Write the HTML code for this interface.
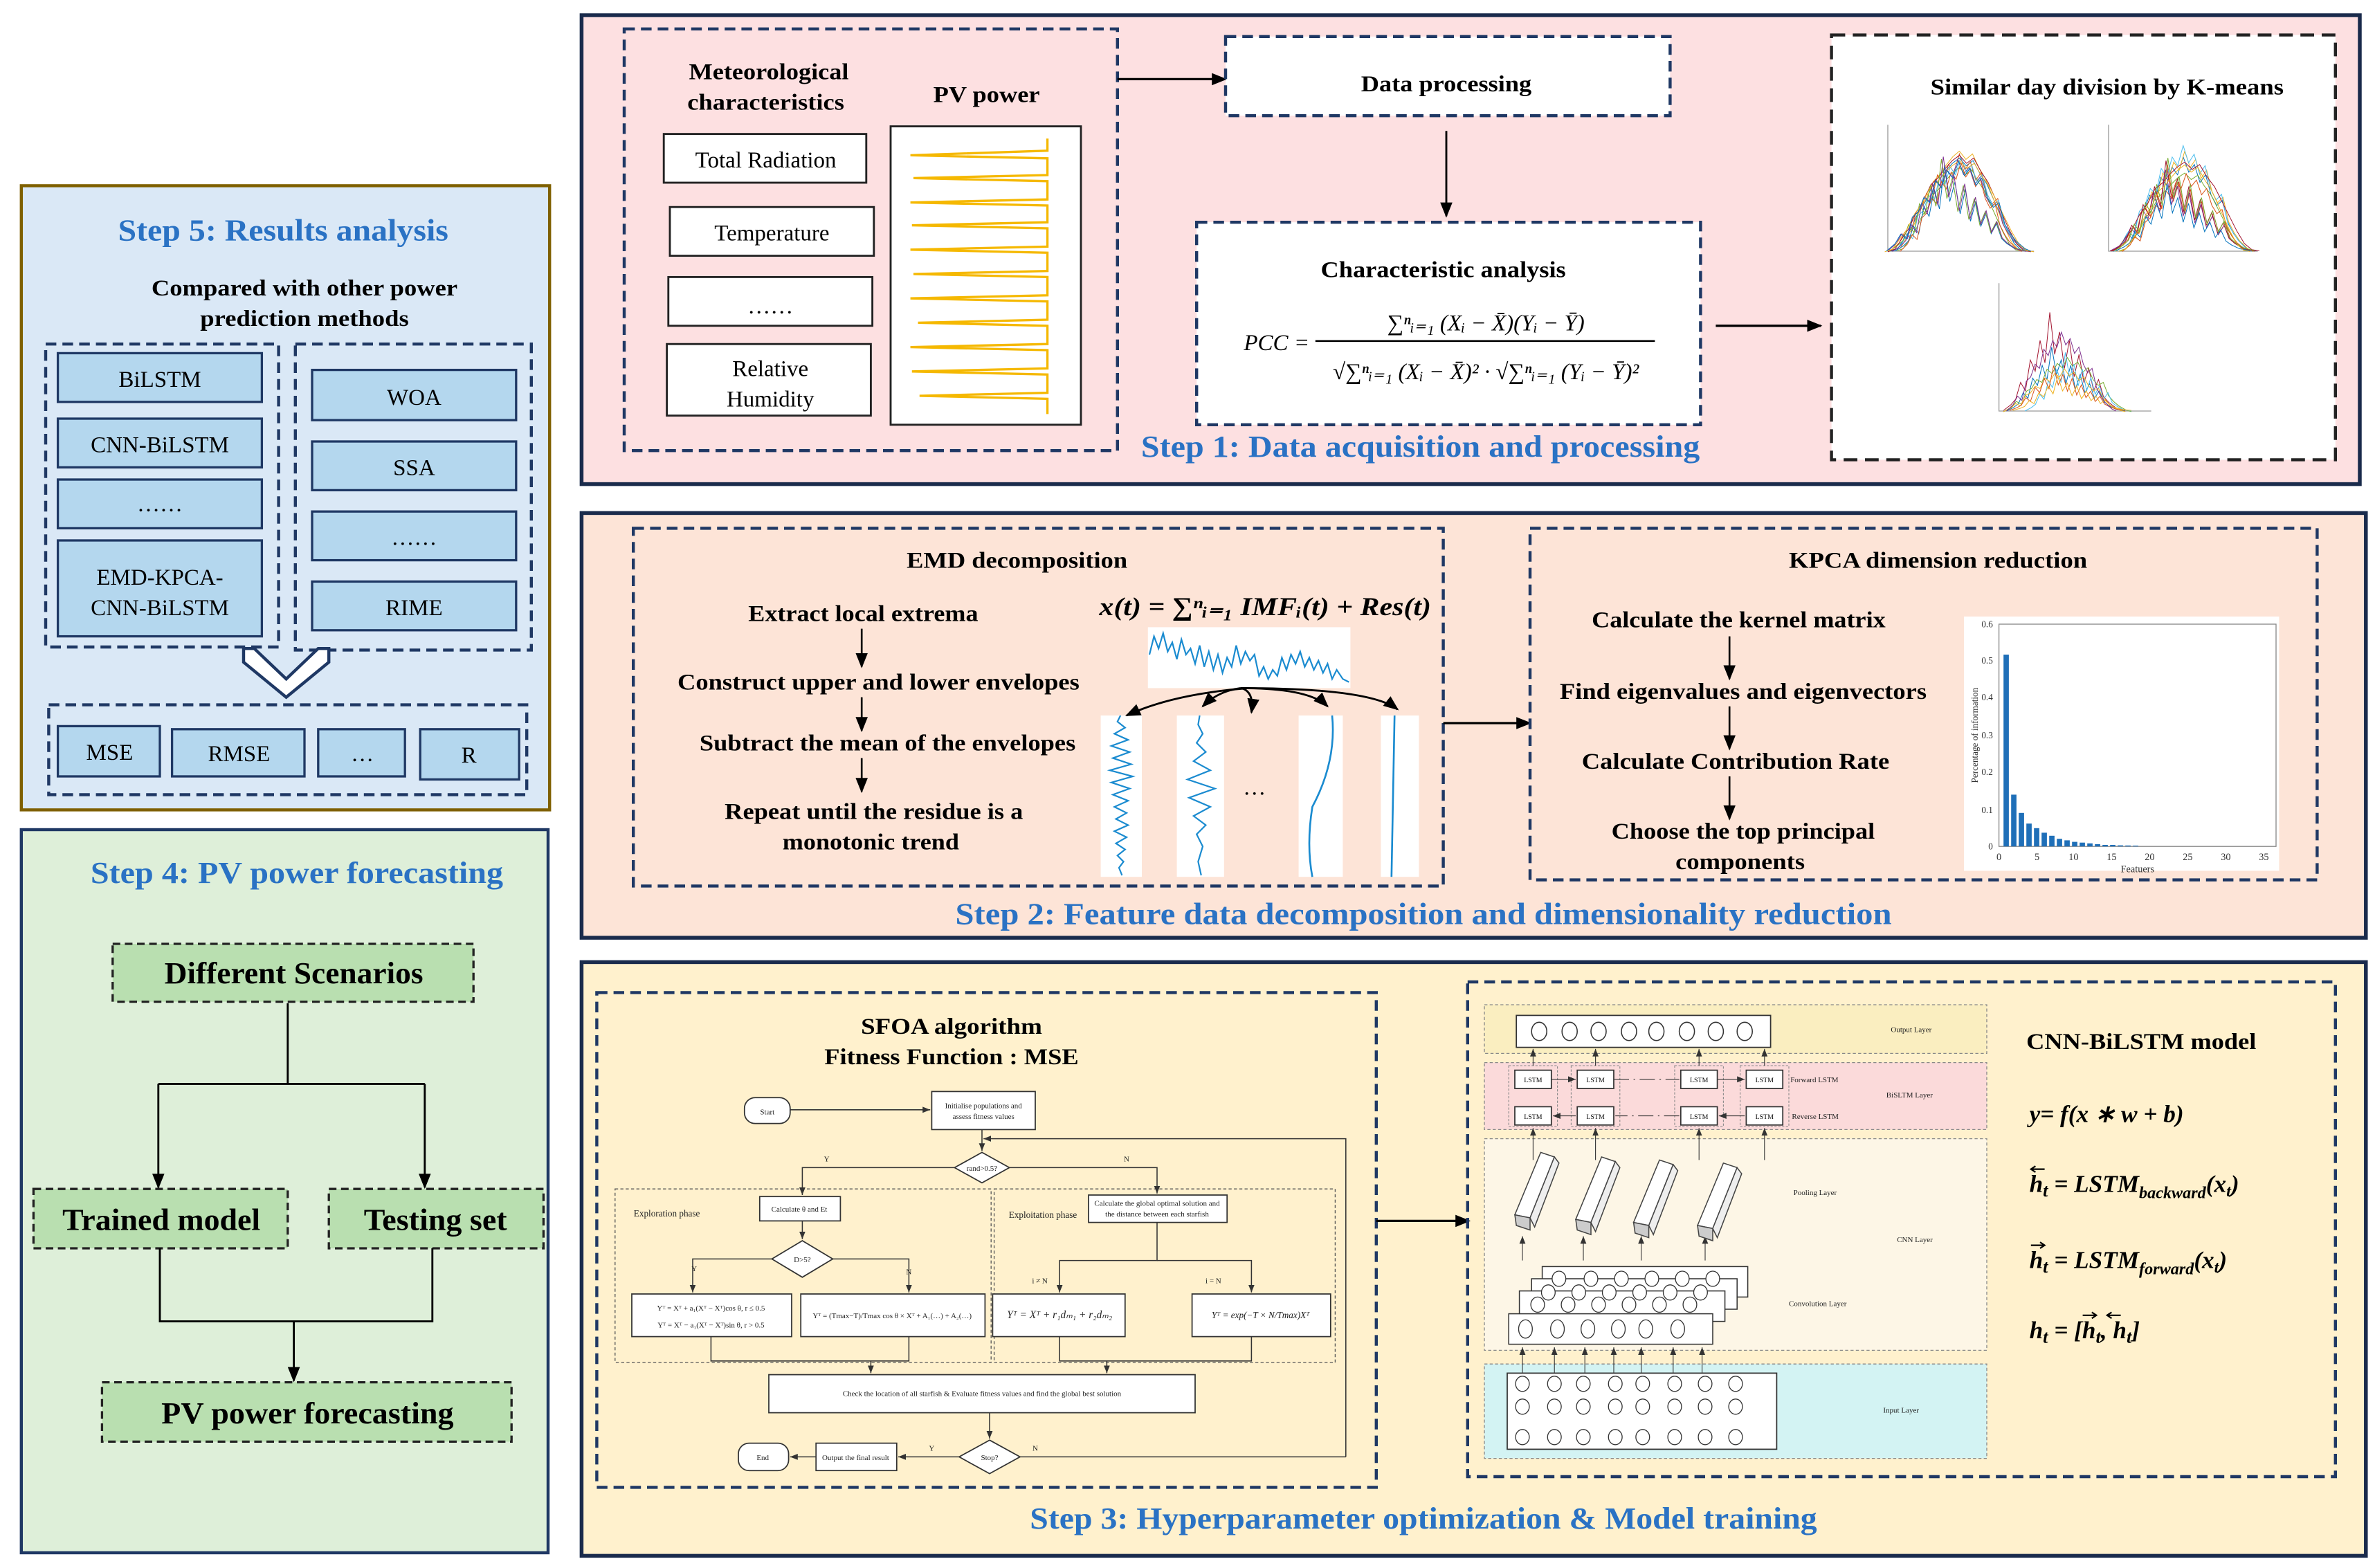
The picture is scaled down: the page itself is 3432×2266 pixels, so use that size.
<!DOCTYPE html>
<html><head><meta charset="utf-8"><style>
html,body{margin:0;padding:0;background:#fff;}
svg{display:block;}
text{font-family:"Liberation Serif",serif;}
.b{font-weight:bold;}
.blue{fill:#2a72c4;font-weight:bold;}
</style></head><body>
<svg width="3432" height="2266" viewBox="0 0 1560 1030" xmlns="http://www.w3.org/2000/svg">
<defs>
<marker id="ar" markerWidth="10" markerHeight="10" refX="9" refY="5" orient="auto" markerUnits="userSpaceOnUse"><path d="M0,1 L10,5 L0,9 Z" fill="#000"/></marker>
<marker id="as" markerWidth="5" markerHeight="5" refX="5" refY="2.5" orient="auto" markerUnits="userSpaceOnUse"><path d="M0,0.5 L5,2.5 L0,4.5 Z" fill="#333"/></marker>
<path id="c1" d="M0,80 L5,78 L10,70 L15,62 L20,50 L25,42 L30,30 L35,25 L40,18 L45,12 L50,8 L55,14 L60,10 L65,20 L70,28 L75,40 L80,52 L85,64 L90,74 L95,79 L100,80" fill="none" vector-effect="non-scaling-stroke"/>
<path id="c2" d="M0,80 L6,74 L10,66 L14,70 L18,52 L22,48 L26,36 L30,40 L34,22 L38,28 L42,14 L46,20 L50,6 L54,18 L58,12 L62,26 L66,20 L70,36 L74,44 L78,40 L82,58 L86,66 L90,72 L96,78 L100,80" fill="none" vector-effect="non-scaling-stroke"/>
<path id="c3" d="M0,80 L6,76 L10,72 L14,60 L18,66 L22,44 L26,52 L30,30 L34,46 L38,10 L42,40 L46,24 L50,50 L54,30 L58,56 L62,40 L66,60 L70,50 L74,66 L78,58 L82,70 L86,74 L92,78 L100,80" fill="none" vector-effect="non-scaling-stroke"/>
</defs>

<!-- STEP 5 -->
<rect x="14" y="122" width="347" height="410" fill="#dae8f6" stroke="#7f6000" stroke-width="2"/>
<text x="186" y="158" class="blue" font-size="20" text-anchor="middle" textLength="217" lengthAdjust="spacingAndGlyphs">Step 5: Results analysis</text>
<text x="200" y="194" class="b" font-size="15" text-anchor="middle" textLength="201" lengthAdjust="spacingAndGlyphs">Compared with other power</text>
<text x="200" y="214" class="b" font-size="15" text-anchor="middle" textLength="137" lengthAdjust="spacingAndGlyphs">prediction methods</text>
<g fill="none" stroke="#1f3864" stroke-width="2" stroke-dasharray="7,4">
<rect x="30" y="226" width="153" height="199"/><rect x="194" y="226" width="155" height="201"/><rect x="32" y="463" width="314" height="59"/>
</g>
<g fill="#b4d7ee" stroke="#1f3864" stroke-width="1.5">
<rect x="38" y="232" width="134" height="32"/><rect x="38" y="275" width="134" height="32"/><rect x="38" y="315" width="134" height="32"/><rect x="38" y="355" width="134" height="63"/>
<rect x="205" y="243" width="134" height="33"/><rect x="205" y="290" width="134" height="32"/><rect x="205" y="336" width="134" height="32"/><rect x="205" y="382" width="134" height="32"/>
<rect x="38" y="477" width="67" height="33"/><rect x="113" y="479" width="87" height="31"/><rect x="209" y="479" width="57" height="31"/><rect x="276" y="479" width="65" height="33"/>
</g>
<g font-size="15" text-anchor="middle">
<text x="105" y="254">BiLSTM</text><text x="105" y="297">CNN-BiLSTM</text><text x="105" y="336">……</text>
<text x="105" y="384">EMD-KPCA-</text><text x="105" y="404">CNN-BiLSTM</text>
<text x="272" y="266">WOA</text><text x="272" y="312">SSA</text><text x="272" y="358">……</text><text x="272" y="404">RIME</text>
<text x="72" y="499">MSE</text><text x="157" y="500">RMSE</text><text x="238" y="500">…</text><text x="308" y="501">R</text>
</g>
<polygon points="160,426 167,426 188,446 209,426 216,426 216,435 188,458 160,435" fill="#fff" stroke="#1f3864" stroke-width="2"/>

<!-- STEP 4 -->
<rect x="14" y="545" width="346" height="475" fill="#deefd9" stroke="#1f3864" stroke-width="2"/>
<text x="195" y="580" class="blue" font-size="20" text-anchor="middle" textLength="271" lengthAdjust="spacingAndGlyphs">Step 4: PV power forecasting</text>
<g fill="#b9dfb0" stroke="#222" stroke-width="1.5" stroke-dasharray="5,3">
<rect x="74" y="620" width="237" height="38"/><rect x="22" y="781" width="167" height="39"/><rect x="216" y="781" width="141" height="39"/><rect x="67" y="908" width="269" height="39"/>
</g>
<g class="b" font-size="20" text-anchor="middle">
<text x="193" y="646" textLength="170" lengthAdjust="spacingAndGlyphs">Different Scenarios</text>
<text x="106" y="808" textLength="130" lengthAdjust="spacingAndGlyphs">Trained model</text>
<text x="286" y="808" textLength="94" lengthAdjust="spacingAndGlyphs">Testing set</text>
<text x="202" y="935" textLength="192" lengthAdjust="spacingAndGlyphs">PV power forecasting</text>
</g>
<g fill="none" stroke="#000" stroke-width="1.3">
<path d="M189,659 V712 M104,712 H279"/>
<path d="M104,712 V780" marker-end="url(#ar)"/><path d="M279,712 V780" marker-end="url(#ar)"/>
<path d="M105,820 V868 H284 V820"/><path d="M193,868 V907" marker-end="url(#ar)"/>
</g>

<!-- STEP 1 -->
<rect x="382" y="10" width="1168" height="308" fill="#fde0e1" stroke="#1a2b4c" stroke-width="2.5"/>
<rect x="410" y="19" width="324" height="277" fill="none" stroke="#1f3864" stroke-width="2" stroke-dasharray="7,4"/>
<text x="505" y="52" class="b" font-size="15" text-anchor="middle" textLength="105" lengthAdjust="spacingAndGlyphs">Meteorological</text>
<text x="503" y="72" class="b" font-size="15" text-anchor="middle" textLength="103" lengthAdjust="spacingAndGlyphs">characteristics</text>
<text x="648" y="67" class="b" font-size="15" text-anchor="middle" textLength="70" lengthAdjust="spacingAndGlyphs">PV power</text>
<g fill="#fff" stroke="#222" stroke-width="1.3">
<rect x="436" y="88" width="133" height="32"/><rect x="440" y="136" width="134" height="32"/><rect x="439" y="182" width="134" height="32"/><rect x="438" y="226" width="134" height="47"/>
<rect x="585" y="83" width="125" height="196"/>
</g>
<g font-size="15" text-anchor="middle">
<text x="503" y="110">Total Radiation</text><text x="507" y="158">Temperature</text><text x="506" y="206">……</text>
<text x="506" y="247">Relative</text><text x="506" y="267">Humidity</text>
</g>
<path d="M688,91 V99 L598,102 L688,104 V115 L600,117 L688,119 V131 L598,133 L688,135 V146 L599,148 L688,150 V162 L598,164 L688,166 V178 L600,180 L688,182 V194 L598,196 L688,198 V210 L603,212 L688,214 V226 L598,228 L688,230 V242 L599,244 L688,246 V258 L604,260 L688,262 V272" fill="none" stroke="#f5b800" stroke-width="1.5"/>
<path d="M734,52 H805" stroke="#000" stroke-width="1.5" marker-end="url(#ar)"/>
<rect x="805" y="24" width="292" height="52" fill="#fff" stroke="#1f3864" stroke-width="2" stroke-dasharray="7,4"/>
<text x="950" y="60" class="b" font-size="15" text-anchor="middle" textLength="112" lengthAdjust="spacingAndGlyphs">Data processing</text>
<path d="M950,86 V142" stroke="#000" stroke-width="1.3" marker-end="url(#ar)"/>
<rect x="786" y="146" width="331" height="133" fill="#fff" stroke="#1f3864" stroke-width="2" stroke-dasharray="7,4"/>
<text x="948" y="182" class="b" font-size="15" text-anchor="middle" textLength="161" lengthAdjust="spacingAndGlyphs">Characteristic analysis</text>
<g font-size="15" font-style="italic">
<text x="817" y="230">PCC =</text>
<text x="976" y="217" text-anchor="middle">∑ⁿᵢ₌₁ (Xᵢ − X̄)(Yᵢ − Ȳ)</text>
<text x="976" y="249" text-anchor="middle">√∑ⁿᵢ₌₁ (Xᵢ − X̄)² · √∑ⁿᵢ₌₁ (Yᵢ − Ȳ)²</text>
</g>
<path d="M864,224 H1087" stroke="#000" stroke-width="1.2"/>
<path d="M1127,214 H1196" stroke="#000" stroke-width="1.5" marker-end="url(#ar)"/>
<text x="933" y="300" class="blue" font-size="20" text-anchor="middle" textLength="367" lengthAdjust="spacingAndGlyphs">Step 1: Data acquisition and processing</text>
<rect x="1203" y="23" width="331" height="279" fill="#fff" stroke="#222" stroke-width="2" stroke-dasharray="9,5"/>
<text x="1384" y="62" class="b" font-size="15" text-anchor="middle" textLength="232" lengthAdjust="spacingAndGlyphs">Similar day division by K-means</text>
<g stroke="#999" stroke-width="0.6" fill="none"><path d="M1240,82 V165 H1336"/><path d="M1385,82 V165 H1483"/><path d="M1313,186 V270 H1413"/></g>
<g stroke-width="1">
<use href="#c1" stroke="#0072bd" transform="translate(1242,97) scale(0.9,0.85)"/>
<use href="#c2" stroke="#d95319" transform="translate(1242,96) scale(0.9,0.86)"/>
<use href="#c1" stroke="#edb120" transform="translate(1244,92) scale(0.86,0.91)"/>
<use href="#c2" stroke="#7e2f8e" transform="translate(1240,100) scale(0.92,0.81)"/>
<use href="#c1" stroke="#77ac30" transform="translate(1246,104) scale(0.82,0.76)"/>
<use href="#c2" stroke="#4dbeee" transform="translate(1244,98) scale(0.88,0.84)"/>
<use href="#c1" stroke="#a2142f" transform="translate(1240,95) scale(0.94,0.88)"/>
<use href="#c3" stroke="#0072bd" transform="translate(1245,100) scale(0.85,0.81)"/>
<use href="#c2" stroke="#d95319" transform="translate(1248,102) scale(0.8,0.79)"/>
<use href="#c3" stroke="#77ac30" transform="translate(1241,96) scale(0.9,0.86)"/>
<use href="#c1" stroke="#edb120" transform="translate(1238,99) scale(0.98,0.83)"/>
<use href="#c3" stroke="#7e2f8e" transform="translate(1243,94) scale(0.88,0.89)"/>
<use href="#c2" stroke="#0072bd" transform="translate(1239,101) scale(0.95,0.8)"/>
<use href="#c2" stroke="#0072bd" transform="translate(1388,98) scale(0.92,0.84)"/>
<use href="#c3" stroke="#d95319" transform="translate(1388,100) scale(0.94,0.81)"/>
<use href="#c2" stroke="#edb120" transform="translate(1390,94) scale(0.9,0.89)"/>
<use href="#c3" stroke="#7e2f8e" transform="translate(1386,104) scale(0.96,0.76)"/>
<use href="#c1" stroke="#77ac30" transform="translate(1392,108) scale(0.86,0.71)"/>
<use href="#c2" stroke="#4dbeee" transform="translate(1389,90) scale(0.9,0.94)"/>
<use href="#c3" stroke="#a2142f" transform="translate(1387,97) scale(0.94,0.85)"/>
<use href="#c2" stroke="#d95319" transform="translate(1394,110) scale(0.84,0.69)"/>
<use href="#c3" stroke="#0072bd" transform="translate(1390,115) scale(0.88,0.62)"/>
<use href="#c1" stroke="#edb120" transform="translate(1392,102) scale(0.86,0.79)"/>
<use href="#c1" stroke="#a2142f" transform="translate(1386,100) scale(0.98,0.81)"/>
<use href="#c3" stroke="#77ac30" transform="translate(1389,95) scale(0.92,0.87)"/>
<use href="#c3" stroke="#a2142f" transform="translate(1316,196) scale(0.8,0.92)"/>
<use href="#c3" stroke="#0072bd" transform="translate(1318,222) scale(0.78,0.6)"/>
<use href="#c2" stroke="#77ac30" transform="translate(1316,232) scale(0.84,0.48)"/>
<use href="#c3" stroke="#4dbeee" transform="translate(1330,226) scale(0.7,0.55)"/>
<use href="#c2" stroke="#edb120" transform="translate(1316,240) scale(0.8,0.38)"/>
<use href="#c3" stroke="#d95319" transform="translate(1320,236) scale(0.76,0.42)"/>
<use href="#c2" stroke="#7e2f8e" transform="translate(1318,214) scale(0.72,0.7)"/>
<use href="#c3" stroke="#edb120" transform="translate(1322,244) scale(0.78,0.32)"/>
</g>

<!-- STEP 2 -->
<rect x="382" y="337" width="1172" height="279" fill="#fde4d7" stroke="#1a2b4c" stroke-width="2.5"/>
<rect x="416" y="347" width="532" height="235" fill="none" stroke="#1f3864" stroke-width="2" stroke-dasharray="7,4"/>
<text x="668" y="373" class="b" font-size="15" text-anchor="middle" textLength="145" lengthAdjust="spacingAndGlyphs">EMD decomposition</text>
<g class="b" font-size="15" text-anchor="middle">
<text x="567" y="408" textLength="151" lengthAdjust="spacingAndGlyphs">Extract local extrema</text>
<text x="577" y="453" textLength="264" lengthAdjust="spacingAndGlyphs">Construct upper and lower envelopes</text>
<text x="583" y="493" textLength="247" lengthAdjust="spacingAndGlyphs">Subtract the mean of the envelopes</text>
<text x="574" y="538" textLength="196" lengthAdjust="spacingAndGlyphs">Repeat until the residue is a</text>
<text x="572" y="558" textLength="116" lengthAdjust="spacingAndGlyphs">monotonic trend</text>
</g>
<g stroke="#000" stroke-width="1.2"><path d="M566,413 V438" marker-end="url(#ar)"/><path d="M566,458 V480" marker-end="url(#ar)"/><path d="M566,498 V520" marker-end="url(#ar)"/></g>
<text x="722" y="404" font-size="17" font-weight="bold" font-style="italic" textLength="218" lengthAdjust="spacingAndGlyphs">x(t) = ∑ⁿᵢ₌₁ IMFᵢ(t) + Res(t)</text>
<rect x="754" y="412" width="133" height="40" fill="#fff"/>
<path d="M755,430 L758,418 L761,426 L764,416 L767,428 L770,422 L773,433 L776,420 L779,430 L782,426 L785,436 L788,424 L791,438 L794,428 L797,440 L800,430 L803,442 L806,432 L809,438 L812,424 L815,436 L818,428 L821,434 L824,430 L827,444 L830,438 L833,446 L836,440 L839,444 L842,432 L845,440 L848,430 L851,436 L854,428 L857,438 L860,432 L863,440 L866,434 L869,442 L872,436 L875,446 L878,440 L882,446 L886,448" fill="none" stroke="#1a8bd0" stroke-width="1"/>
<g fill="#fff"><rect x="723" y="470" width="27" height="106"/><rect x="773" y="470" width="31" height="106"/><rect x="853" y="470" width="29" height="106"/><rect x="907" y="470" width="25" height="106"/></g>
<path d="M736,470 L734,474 L739,478 L732,482 L741,486 L730,490 L742,494 L731,498 L743,502 L729,506 L744,510 L730,514 L742,518 L731,522 L741,526 L732,530 L740,534 L733,538 L741,542 L732,546 L740,550 L733,554 L739,558 L734,562 L738,566 L735,570 L737,575" fill="none" stroke="#1a8bd0" stroke-width="1"/>
<path d="M788,470 L787,476 L790,482 L786,488 L792,494 L784,500 L795,506 L780,512 L798,518 L781,524 L795,530 L784,536 L792,542 L786,548 L790,556 L787,566 L789,575" fill="none" stroke="#1a8bd0" stroke-width="1"/>
<path d="M875,470 Q878,500 862,530 Q858,555 862,576" fill="none" stroke="#1a8bd0" stroke-width="1.2"/>
<path d="M916,470 L914,576" fill="none" stroke="#1a8bd0" stroke-width="1.2"/>
<text x="824" y="522" font-size="15" text-anchor="middle">…</text>
<g fill="none" stroke="#000" stroke-width="1.3">
<path d="M820,452 Q770,456 740,470" marker-end="url(#ar)"/>
<path d="M815,452 Q800,454 790,464" marker-end="url(#ar)"/>
<path d="M815,452 Q824,454 822,468" marker-end="url(#ar)"/>
<path d="M815,452 Q860,452 872,464" marker-end="url(#ar)"/>
<path d="M815,452 Q900,452 918,466" marker-end="url(#ar)"/>
</g>
<path d="M948,475 H1005" stroke="#000" stroke-width="1.5" marker-end="url(#ar)"/>
<rect x="1005" y="347" width="517" height="231" fill="none" stroke="#1f3864" stroke-width="2" stroke-dasharray="7,4"/>
<text x="1273" y="373" class="b" font-size="15" text-anchor="middle" textLength="196" lengthAdjust="spacingAndGlyphs">KPCA dimension reduction</text>
<g class="b" font-size="15" text-anchor="middle">
<text x="1142" y="412" textLength="193" lengthAdjust="spacingAndGlyphs">Calculate the kernel matrix</text>
<text x="1145" y="459" textLength="241" lengthAdjust="spacingAndGlyphs">Find eigenvalues and eigenvectors</text>
<text x="1140" y="505" textLength="202" lengthAdjust="spacingAndGlyphs">Calculate Contribution Rate</text>
<text x="1145" y="551" textLength="173" lengthAdjust="spacingAndGlyphs">Choose the top principal</text>
<text x="1143" y="571" textLength="85" lengthAdjust="spacingAndGlyphs">components</text>
</g>
<g stroke="#000" stroke-width="1.2"><path d="M1136,418 V446" marker-end="url(#ar)"/><path d="M1136,464 V492" marker-end="url(#ar)"/><path d="M1136,510 V538" marker-end="url(#ar)"/></g>
<rect x="1290" y="405" width="207" height="167" fill="#fff"/>
<rect x="1313" y="410" width="182" height="146" fill="none" stroke="#888" stroke-width="0.6"/>
<g fill="#1f6fb8">
<rect x="1316" y="430" width="3.5" height="126"/><rect x="1321" y="522" width="3.5" height="34"/><rect x="1326" y="534" width="3.5" height="22"/><rect x="1331" y="541" width="3.5" height="15"/><rect x="1336" y="544" width="3.5" height="12"/><rect x="1341" y="547" width="3.5" height="9"/><rect x="1346" y="549" width="3.5" height="7"/><rect x="1351" y="551" width="3.5" height="5"/><rect x="1356" y="552" width="3.5" height="4"/><rect x="1361" y="553" width="3.5" height="3"/><rect x="1366" y="553.5" width="3.5" height="2.5"/><rect x="1371" y="554" width="3.5" height="2"/><rect x="1376" y="554.5" width="3.5" height="1.5"/><rect x="1381" y="555" width="3.5" height="1"/><rect x="1386" y="555" width="3.5" height="1"/><rect x="1391" y="555.3" width="3.5" height="0.7"/><rect x="1396" y="555.4" width="3.5" height="0.6"/><rect x="1401" y="555.5" width="3.5" height="0.5"/>
</g>
<g font-family="Liberation Sans" font-size="6" fill="#333" text-anchor="end">
<text x="1309" y="412">0.6</text><text x="1309" y="436">0.5</text><text x="1309" y="460">0.4</text><text x="1309" y="485">0.3</text><text x="1309" y="509">0.2</text><text x="1309" y="534">0.1</text><text x="1309" y="558">0</text>
</g>
<g font-family="Liberation Sans" font-size="6.5" fill="#333" text-anchor="middle">
<text x="1313" y="565">0</text><text x="1338" y="565">5</text><text x="1362" y="565">10</text><text x="1387" y="565">15</text><text x="1412" y="565">20</text><text x="1437" y="565">25</text><text x="1462" y="565">30</text><text x="1487" y="565">35</text>
<text x="1404" y="573">Featuers</text>
<text x="0" y="0" transform="translate(1299,483) rotate(-90)" font-size="6">Percentage of information</text>
</g>
<text x="935" y="607" class="blue" font-size="20" text-anchor="middle" textLength="615" lengthAdjust="spacingAndGlyphs">Step 2:  Feature data decomposition and dimensionality reduction</text>

<!-- STEP 3 -->
<rect x="382" y="632" width="1172" height="390" fill="#fff1cd" stroke="#1a2b4c" stroke-width="2.5"/>
<rect x="392" y="652" width="512" height="325" fill="none" stroke="#1f3864" stroke-width="2" stroke-dasharray="7,4"/>
<text x="625" y="679" class="b" font-size="15" text-anchor="middle" textLength="119" lengthAdjust="spacingAndGlyphs">SFOA algorithm</text>
<text x="625" y="699" class="b" font-size="15" text-anchor="middle" textLength="167" lengthAdjust="spacingAndGlyphs">Fitness Function : MSE</text>
<g fill="none" stroke="#555" stroke-width="0.6" stroke-dasharray="2,1.5">
<rect x="404" y="781" width="247" height="114"/><rect x="653" y="781" width="224" height="114"/>
</g>
<g fill="#fff" stroke="#333" stroke-width="0.8">
<rect x="489" y="721" width="30" height="17" rx="7"/>
<rect x="612" y="717" width="68" height="25"/>
<polygon points="645,757 663,767 645,777 627,767"/>
<rect x="499" y="786" width="53" height="16"/>
<rect x="715" y="785" width="91" height="18"/>
<polygon points="527,815 547,827 527,839 507,827"/>
<rect x="415" y="850" width="105" height="28"/><rect x="526" y="850" width="121" height="28"/>
<rect x="652" y="850" width="87" height="28"/><rect x="783" y="850" width="91" height="28"/>
<rect x="505" y="903" width="280" height="25"/>
<polygon points="650,946 670,957 650,968 630,957"/>
<rect x="536" y="948" width="53" height="18"/>
<rect x="485" y="948" width="33" height="18" rx="7"/>
</g>
<g fill="none" stroke="#333" stroke-width="0.7">
<path d="M519,729 H611" marker-end="url(#as)"/>
<path d="M645,742 V756" marker-end="url(#as)"/>
<path d="M884,957 V748 H646" marker-end="url(#as)"/>
<path d="M670,957 H884"/>
<path d="M627,767 H527 V785" marker-end="url(#as)"/>
<path d="M663,767 H760 V784" marker-end="url(#as)"/>
<path d="M527,802 V814" marker-end="url(#as)"/>
<path d="M507,827 H455 V849" marker-end="url(#as)"/>
<path d="M547,827 H597 V849" marker-end="url(#as)"/>
<path d="M760,803 V828 H696 V849" marker-end="url(#as)"/>
<path d="M760,828 H822 V849" marker-end="url(#as)"/>
<path d="M467,878 V894 H597 V878"/>
<path d="M572,894 V902" marker-end="url(#as)"/>
<path d="M696,878 V894 H822 V878"/>
<path d="M727,894 V902" marker-end="url(#as)"/>
<path d="M650,928 V945" marker-end="url(#as)"/>
<path d="M630,957 H590" marker-end="url(#as)"/>
<path d="M536,957 H519" marker-end="url(#as)"/>
</g>
<g font-size="5" text-anchor="middle" fill="#222">
<text x="504" y="732">Start</text>
<text x="646" y="728">Initialise populations and</text><text x="646" y="735">assess fitness values</text>
<text x="645" y="769">rand&gt;0.5?</text>
<text x="525" y="796">Calculate θ and Et</text>
<text x="760" y="792">Calculate the global optimal solution and</text><text x="760" y="799">the distance between each starfish</text>
<text x="527" y="829">D&gt;5?</text>
<text x="467" y="861">Yᵀ = Xᵀ + a₁(Xᵀ − Xᵀ)cos θ, r ≤ 0.5</text><text x="467" y="872">Yᵀ = Xᵀ − a₁(Xᵀ − Xᵀ)sin θ, r &gt; 0.5</text>
<text x="586" y="866">Yᵀ = (Tmax−T)/Tmax cos θ × Xᵀ + A₁(…) + A₂(…)</text>
<text x="696" y="866" font-size="7" font-style="italic">Yᵀ = Xᵀ + r₁dₘ₁ + r₂dₘ₂</text>
<text x="828" y="866" font-size="6" font-style="italic">Yᵀ = exp(−T × N/Tmax)Xᵀ</text>
<text x="645" y="917">Check the location of all starfish &amp; Evaluate fitness values and find the global best solution</text>
<text x="650" y="959">Stop?</text>
<text x="562" y="959">Output the final result</text>
<text x="501" y="959">End</text>
<text x="543" y="763">Y</text><text x="740" y="763">N</text><text x="456" y="835">Y</text><text x="597" y="837">N</text>
<text x="683" y="843">i ≠ N</text><text x="797" y="843">i = N</text>
<text x="612" y="953">Y</text><text x="680" y="953">N</text>
<text x="438" y="799" font-size="6">Exploration phase</text><text x="685" y="800" font-size="6">Exploitation phase</text>
</g>
<path d="M904,802 H965" stroke="#000" stroke-width="1.5" marker-end="url(#ar)"/>
<rect x="964" y="645" width="570" height="325" fill="none" stroke="#1f3864" stroke-width="2" stroke-dasharray="7,4"/>
<g stroke="#888" stroke-width="0.6" stroke-dasharray="2,1.5">
<rect x="975" y="660" width="330" height="32" fill="#faeec0"/>
<rect x="975" y="698" width="330" height="44" fill="#fbdada"/>
<rect x="975" y="748" width="330" height="139" fill="#fdf6e6"/>
<rect x="975" y="896" width="330" height="62" fill="#d3f3f3"/>
</g>
<rect x="996" y="667" width="167" height="21" fill="#fff" stroke="#333" stroke-width="0.8"/>
<g fill="#fff" stroke="#333" stroke-width="0.7">
<ellipse cx="1011" cy="677.5" rx="5" ry="6"/><ellipse cx="1031" cy="677.5" rx="5" ry="6"/><ellipse cx="1050" cy="677.5" rx="5" ry="6"/><ellipse cx="1070" cy="677.5" rx="5" ry="6"/><ellipse cx="1088" cy="677.5" rx="5" ry="6"/><ellipse cx="1108" cy="677.5" rx="5" ry="6"/><ellipse cx="1127" cy="677.5" rx="5" ry="6"/><ellipse cx="1146" cy="677.5" rx="5" ry="6"/>
</g>
<g fill="none" stroke="#888" stroke-width="0.5" stroke-dasharray="1.5,1">
<rect x="991" y="700" width="32" height="40"/><rect x="1032" y="700" width="32" height="40"/><rect x="1100" y="700" width="32" height="40"/><rect x="1143" y="700" width="32" height="40"/>
</g>
<g fill="#fff" stroke="#333" stroke-width="0.8">
<rect x="995" y="703" width="24" height="12"/><rect x="1036" y="703" width="24" height="12"/><rect x="1104" y="703" width="24" height="12"/><rect x="1147" y="703" width="24" height="12"/>
<rect x="995" y="727" width="24" height="12"/><rect x="1036" y="727" width="24" height="12"/><rect x="1104" y="727" width="24" height="12"/><rect x="1147" y="727" width="24" height="12"/>
</g>
<g font-size="4.5" font-family="Liberation Sans" text-anchor="middle">
<text x="1007" y="711">LSTM</text><text x="1048" y="711">LSTM</text><text x="1116" y="711">LSTM</text><text x="1159" y="711">LSTM</text>
<text x="1007" y="735">LSTM</text><text x="1048" y="735">LSTM</text><text x="1116" y="735">LSTM</text><text x="1159" y="735">LSTM</text>
</g>
<g fill="none" stroke="#333" stroke-width="0.5">
<path d="M1019,709 H1035" marker-end="url(#as)"/><path d="M1060,709 H1103" stroke-dasharray="10,3,1,3"/><path d="M1128,709 H1146" marker-end="url(#as)"/>
<path d="M1035,733 H1020" marker-end="url(#as)"/><path d="M1103,733 H1061" stroke-dasharray="10,3,1,3"/><path d="M1146,733 H1129" marker-end="url(#as)"/>
<path d="M1007,700 V689" marker-end="url(#as)"/><path d="M1048,700 V689" marker-end="url(#as)"/><path d="M1116,700 V689" marker-end="url(#as)"/><path d="M1159,700 V689" marker-end="url(#as)"/>
<path d="M1007,762 V741" marker-end="url(#as)"/><path d="M1048,762 V741" marker-end="url(#as)"/><path d="M1116,762 V741" marker-end="url(#as)"/><path d="M1159,762 V741" marker-end="url(#as)"/>
<path d="M1000,828 V812" marker-end="url(#as)"/><path d="M1040,828 V812" marker-end="url(#as)"/><path d="M1078,828 V812" marker-end="url(#as)"/><path d="M1120,828 V812" marker-end="url(#as)"/>
</g>
<g stroke="#444" stroke-width="0.7">
<g><polygon points="1012,757 1021,760 1005,800 995,798" fill="#fff"/><polygon points="995,798 1005,800 1005,808 996,805" fill="#ccc"/><polygon points="1021,760 1024,764 1008,806 1005,800" fill="#eee"/></g>
<g transform="translate(40,3)"><polygon points="1012,757 1021,760 1005,800 995,798" fill="#fff"/><polygon points="995,798 1005,800 1005,808 996,805" fill="#ccc"/><polygon points="1021,760 1024,764 1008,806 1005,800" fill="#eee"/></g>
<g transform="translate(78,5)"><polygon points="1012,757 1021,760 1005,800 995,798" fill="#fff"/><polygon points="995,798 1005,800 1005,808 996,805" fill="#ccc"/><polygon points="1021,760 1024,764 1008,806 1005,800" fill="#eee"/></g>
<g transform="translate(120,7)"><polygon points="1012,757 1021,760 1005,800 995,798" fill="#fff"/><polygon points="995,798 1005,800 1005,808 996,805" fill="#ccc"/><polygon points="1021,760 1024,764 1008,806 1005,800" fill="#eee"/></g>
</g>
<g fill="#fff" stroke="#333" stroke-width="0.7">
<rect x="1013" y="832" width="135" height="20"/><rect x="1006" y="840" width="135" height="20"/><rect x="998" y="848" width="135" height="20"/><rect x="991" y="863" width="134" height="20"/>
</g>
<g fill="#fff" stroke="#333" stroke-width="0.6">
<ellipse cx="1024" cy="840" rx="4.5" ry="5"/><ellipse cx="1045" cy="840" rx="4.5" ry="5"/><ellipse cx="1065" cy="840" rx="4.5" ry="5"/><ellipse cx="1085" cy="840" rx="4.5" ry="5"/><ellipse cx="1105" cy="840" rx="4.5" ry="5"/><ellipse cx="1125" cy="840" rx="4.5" ry="5"/>
<ellipse cx="1017" cy="849" rx="4.5" ry="5"/><ellipse cx="1037" cy="849" rx="4.5" ry="5"/><ellipse cx="1057" cy="849" rx="4.5" ry="5"/><ellipse cx="1077" cy="849" rx="4.5" ry="5"/><ellipse cx="1097" cy="849" rx="4.5" ry="5"/><ellipse cx="1117" cy="849" rx="4.5" ry="5"/>
<ellipse cx="1010" cy="857" rx="4.5" ry="5"/><ellipse cx="1030" cy="857" rx="4.5" ry="5"/><ellipse cx="1050" cy="857" rx="4.5" ry="5"/><ellipse cx="1070" cy="857" rx="4.5" ry="5"/><ellipse cx="1090" cy="857" rx="4.5" ry="5"/><ellipse cx="1110" cy="857" rx="4.5" ry="5"/>
<ellipse cx="1002" cy="873" rx="4.5" ry="6"/><ellipse cx="1023" cy="873" rx="4.5" ry="6"/><ellipse cx="1043" cy="873" rx="4.5" ry="6"/><ellipse cx="1063" cy="873" rx="4.5" ry="6"/><ellipse cx="1081" cy="873" rx="4.5" ry="6"/><ellipse cx="1102" cy="873" rx="4.5" ry="6"/>
</g>
<g fill="none" stroke="#333" stroke-width="0.5">
<path d="M1000,902 V885" marker-end="url(#as)"/><path d="M1021,902 V885" marker-end="url(#as)"/><path d="M1041,902 V885" marker-end="url(#as)"/><path d="M1060,902 V885" marker-end="url(#as)"/><path d="M1078,902 V885" marker-end="url(#as)"/><path d="M1099,902 V885" marker-end="url(#as)"/><path d="M1118,902 V885" marker-end="url(#as)"/>
</g>
<rect x="990" y="902" width="177" height="50" fill="#fff" stroke="#333" stroke-width="0.8"/>
<g fill="#fff" stroke="#333" stroke-width="0.6">
<ellipse cx="1000" cy="909" rx="4.5" ry="5"/><ellipse cx="1021" cy="909" rx="4.5" ry="5"/><ellipse cx="1040" cy="909" rx="4.5" ry="5"/><ellipse cx="1061" cy="909" rx="4.5" ry="5"/><ellipse cx="1079" cy="909" rx="4.5" ry="5"/><ellipse cx="1100" cy="909" rx="4.5" ry="5"/><ellipse cx="1120" cy="909" rx="4.5" ry="5"/><ellipse cx="1140" cy="909" rx="4.5" ry="5"/>
<ellipse cx="1000" cy="924" rx="4.5" ry="5"/><ellipse cx="1021" cy="924" rx="4.5" ry="5"/><ellipse cx="1040" cy="924" rx="4.5" ry="5"/><ellipse cx="1061" cy="924" rx="4.5" ry="5"/><ellipse cx="1079" cy="924" rx="4.5" ry="5"/><ellipse cx="1100" cy="924" rx="4.5" ry="5"/><ellipse cx="1120" cy="924" rx="4.5" ry="5"/><ellipse cx="1140" cy="924" rx="4.5" ry="5"/>
<ellipse cx="1000" cy="944" rx="4.5" ry="5"/><ellipse cx="1021" cy="944" rx="4.5" ry="5"/><ellipse cx="1040" cy="944" rx="4.5" ry="5"/><ellipse cx="1061" cy="944" rx="4.5" ry="5"/><ellipse cx="1079" cy="944" rx="4.5" ry="5"/><ellipse cx="1100" cy="944" rx="4.5" ry="5"/><ellipse cx="1120" cy="944" rx="4.5" ry="5"/><ellipse cx="1140" cy="944" rx="4.5" ry="5"/>
</g>
<g font-size="5" fill="#222">
<text x="1242" y="678">Output Layer</text>
<text x="1176" y="711">Forward LSTM</text><text x="1239" y="721">BiSLTM Layer</text><text x="1177" y="735">Reverse LSTM</text>
<text x="1178" y="785">Pooling Layer</text><text x="1246" y="816">CNN Layer</text><text x="1175" y="858">Convolution Layer</text>
<text x="1237" y="928">Input Layer</text>
</g>
<text x="1331" y="689" class="b" font-size="15" textLength="151" lengthAdjust="spacingAndGlyphs">CNN-BiLSTM model</text>
<g font-size="16" font-weight="bold" font-style="italic">
<text x="1333" y="737">y= f(x ∗ w + b)</text>
<text x="1333" y="783">h<tspan font-size="12" dy="3">t</tspan><tspan dy="-3"> = LSTM</tspan><tspan font-size="11" dy="4">backward</tspan><tspan dy="-4">(x</tspan><tspan font-size="11" dy="3">t</tspan><tspan dy="-3">)</tspan></text>
<text x="1333" y="833">h<tspan font-size="12" dy="3">t</tspan><tspan dy="-3"> = LSTM</tspan><tspan font-size="11" dy="4">forward</tspan><tspan dy="-4">(x</tspan><tspan font-size="11" dy="3">t</tspan><tspan dy="-3">)</tspan></text>
<text x="1333" y="879">h<tspan font-size="12" dy="3">t</tspan><tspan dy="-3"> = [h</tspan><tspan font-size="12" dy="3">t</tspan><tspan dy="-3">, h</tspan><tspan font-size="12" dy="3">t</tspan><tspan dy="-3">]</tspan></text>
</g>
<g fill="none" stroke="#000" stroke-width="1">
<path d="M1343,768 H1334 M1337,766 L1334,768 L1337,770"/>
<path d="M1334,818 H1343 M1340,816 L1343,818 L1340,820"/>
<path d="M1368,864 H1377 M1374,862 L1377,864 L1374,866"/>
<path d="M1393,864 H1384 M1387,862 L1384,864 L1387,866"/>
</g>
<text x="935" y="1004" class="blue" font-size="20" text-anchor="middle" textLength="517" lengthAdjust="spacingAndGlyphs">Step 3: Hyperparameter optimization &amp; Model training</text>
</svg>
</body></html>
